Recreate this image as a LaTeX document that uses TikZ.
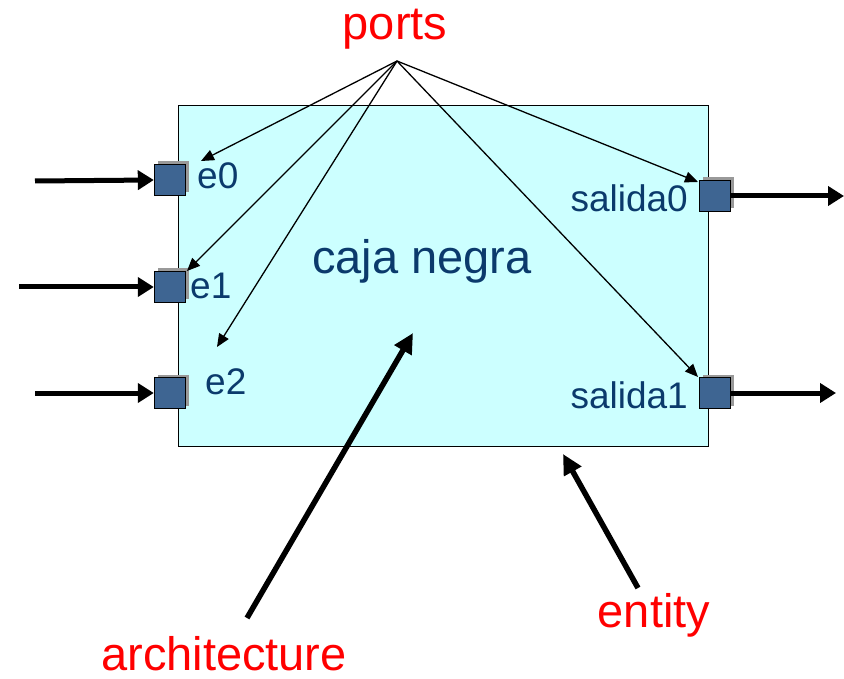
\documentclass[tikz,border=0pt]{standalone}
\usepackage{fontspec}
\setmainfont{Liberation Sans}
\usetikzlibrary{arrows.meta,shadows}
\definecolor{boxfill}{HTML}{CCFFFF}
\definecolor{portfill}{HTML}{3E6592}
\definecolor{labelblue}{HTML}{0B3A6C}
\definecolor{notered}{HTML}{FF0000}
\tikzset{
  portbox/.style={draw=black, line width=1.4pt, fill=portfill, minimum size=31pt,
    inner sep=0pt, drop shadow={shadow xshift=3pt, shadow yshift=3pt, fill=gray!80, opacity=1}},
  portlabel/.style={text=labelblue, inner sep=0pt, font=\fontsize{37}{44}\selectfont},
  notelabel/.style={text=notered, inner sep=0pt, font=\fontsize{47}{56}\selectfont},
  signal/.style={line width=5pt, -{Triangle[length=16pt,width=19pt]}},
  pointer/.style={line width=1.3pt, -{Triangle[length=13pt,width=11pt]}},
  callout/.style={line width=5.5pt, -{Triangle[length=20pt,width=19pt]}}
}
\begin{document}
\begin{tikzpicture}[x=1pt,y=-1pt]
  \useasboundingbox (0,0) rectangle (844,679);

  % the black box
  \node[draw=black, line width=1.4pt, fill=boxfill, minimum width=530pt,
        minimum height=341pt, inner sep=0pt, anchor=north west] (box) at (178,105) {};

  % ports on the boundary
  \node[portbox] (i0) at (170,180) {};
  \node[portbox] (i1) at (170,287) {};
  \node[portbox] (i2) at (170,393) {};
  \node[portbox] (o0) at (715,196) {};
  \node[portbox] (o1) at (715,393) {};

  % port names
  \node[portlabel, anchor=base west] (le0) at (197,189) {e0};
  \node[portlabel, anchor=base west] (le1) at (190,299) {e1};
  \node[portlabel, anchor=base west] (le2) at (205,394) {e2};
  \node[portlabel, anchor=base east] (ls0) at (688,212) {salida0};
  \node[portlabel, anchor=base east] (ls1) at (688,408) {salida1};

  \node[text=labelblue, inner sep=0pt, font=\fontsize{47}{56}\selectfont, anchor=base]
    (title) at (422,274) {caja negra};

  % external signals
  \coordinate (s0) at (35,181);
  \coordinate (s1) at (19,287);
  \coordinate (s2) at (35,393);
  \coordinate (d0) at (844,196);
  \coordinate (d1) at (836,393);
  \draw[signal] (s0) -- (i0.west);
  \draw[signal] (s1) -- (i1.west);
  \draw[signal] (s2) -- (i2.west);
  \draw[signal] (o0.east) -- (d0);
  \draw[signal] (o1.east) -- (d1);

  % annotations
  \node[notelabel, anchor=base] (ports) at (395,40) {ports};
  \node[notelabel, anchor=base] (arch) at (224,670) {architecture};
  \node[notelabel, anchor=base] (ent) at (654,627) {entity};

  \coordinate (fan) at (397,61);
  \coordinate (t0) at (201,161);
  \coordinate (t2) at (217,347);
  \draw[pointer] (fan) -- (t0);
  \draw[pointer] (fan) -- (187,271);
  \draw[pointer] (fan) -- (t2);
  \draw[pointer] (fan) -- (698,182);
  \draw[pointer] (fan) -- (698,377);

  \coordinate (archtail) at (247,618);
  \coordinate (archtip) at (413,333);
  \coordinate (enttail) at (638,588);
  \coordinate (enttip) at (563,454);
  \draw[callout] (archtail) -- (archtip);
  \draw[callout] (enttail) -- (enttip);
\end{tikzpicture}
\end{document}
